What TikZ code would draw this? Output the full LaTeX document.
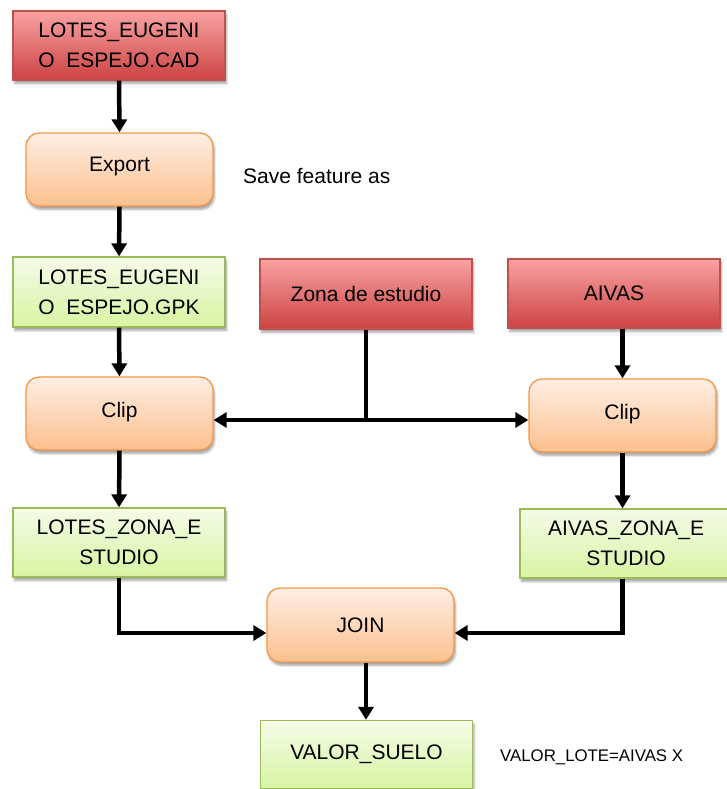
\documentclass[tikz,border=0pt]{standalone}
\usepackage{fontspec}
\setmainfont{Liberation Sans}
\usetikzlibrary{arrows.meta,shadows.blur}
\definecolor{redtop}{HTML}{F9A3A3}
\definecolor{redbot}{HTML}{CC4242}
\definecolor{redline}{HTML}{C0504D}
\definecolor{ortop}{HTML}{FFEFE4}
\definecolor{orbot}{HTML}{FCC08E}
\definecolor{orline}{HTML}{F79646}
\definecolor{grtop}{HTML}{F4FBE8}
\definecolor{grbot}{HTML}{D8F5A2}
\definecolor{grline}{HTML}{9BBB59}
\tikzset{
  basebox/.style={minimum width=212pt, minimum height=69pt, inner sep=0pt, align=center,
    font=\fontsize{21}{30}\selectfont, line width=1.3pt,
    blur shadow={shadow xshift=1.5pt, shadow yshift=-3.5pt, shadow blur steps=6, shadow opacity=35}},
  redbox/.style={basebox, draw=redline, top color=redtop, bottom color=redbot},
  grbox/.style={basebox, draw=grline, top color=grtop, bottom color=grbot},
  orbox/.style={basebox, minimum width=187pt, minimum height=73pt, rounded corners=13pt,
    draw=orline, top color=ortop, bottom color=orbot},
  conn/.style={line width=4.5pt, -{Triangle[width=15pt,length=13pt]}},
  plainconn/.style={line width=4.5pt},
}
\begin{document}
\begin{tikzpicture}[x=1pt,y=-1pt]
\useasboundingbox (0,0) rectangle (726,789);
\node[redbox] (cad) at (119,45.5) {LOTES\_EUGENI\\O\ \ ESPEJO.CAD};
\node[orbox] (export) at (119.5,169.5) {\raisebox{10pt}{Export}};
\node[grbox, minimum height=70pt] (gpk) at (119,292) {LOTES\_EUGENI\\O\ \ ESPEJO.GPK};
\node[redbox, minimum height=70pt] (zona) at (366,294) {Zona de estudio};
\node[redbox] (aivas) at (614,293.5) {AIVAS};
\node[orbox] (clipl) at (119.5,413.5) {\raisebox{8pt}{Clip}};
\node[orbox] (clipr) at (622.5,415.5) {\raisebox{8pt}{Clip}};
\node[grbox] (lz) at (119,542.5) {LOTES\_ZONA\_E\\STUDIO};
\node[grbox] (az) at (626,543.5) {AIVAS\_ZONA\_E\\STUDIO};
\node[orbox, minimum height=74pt] (join) at (360.5,625) {JOIN};
\node[grbox, minimum height=68pt] (vs) at (366.5,754.5) {\raisebox{2pt}{VALOR\_SUELO}};
\node[anchor=west, inner sep=0pt, font=\fontsize{21}{24}\selectfont] (save) at (243,176) {Save feature as};
\node[anchor=west, inner sep=0pt, font=\fontsize{16.8}{20}\selectfont] (formula) at (500,757) {VALOR\_LOTE=AIVAS X};

\draw[conn] (cad.south) -- (export.north);
\draw[conn] (export.south) -- (gpk.north);
\draw[conn] (gpk.south) -- (clipl.north);
\draw[conn] (aivas.south -| clipr.north) -- (clipr.north);
\coordinate (j) at (366,420);
\draw[plainconn] (zona.south) -- (j);
\draw[conn] (j) -- (j -| clipl.east);
\draw[conn] (j) -- (j -| clipr.west);
\draw[conn] (clipl.south) -- (lz.north);
\draw[conn] (clipr.south) -- (clipr.south |- az.north);
\draw[conn] (lz.south) |- ([yshift=-8pt]join.west);
\draw[conn] (az.south -| clipr.south) |- ([yshift=-8pt]join.east);
\draw[conn] (join.south -| zona.south) -- (vs.north -| zona.south);
\end{tikzpicture}
\end{document}
